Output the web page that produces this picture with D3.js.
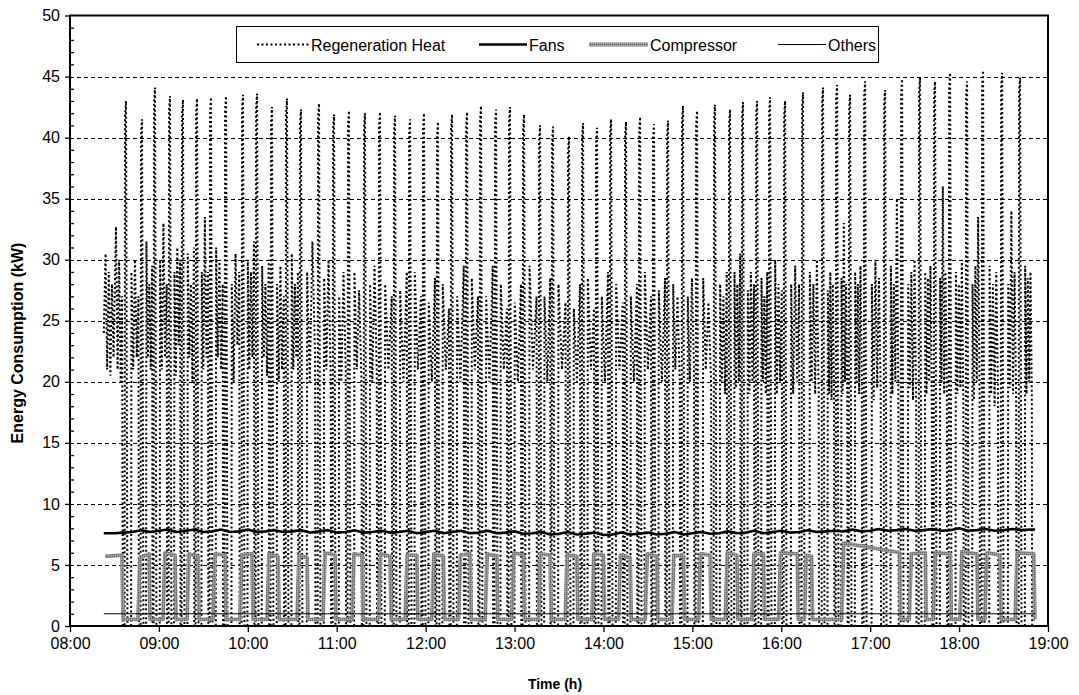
<!DOCTYPE html>
<html>
<head>
<meta charset="utf-8">
<script src="https://cdn.jsdelivr.net/npm/d3@7/dist/d3.min.js"></script>
<style>
  body { margin: 0; background: #fff; }
  text { font-family: "Liberation Sans", Arial, sans-serif; fill: #000; }
</style>
</head>
<body>
<svg id="chart" width="1079" height="695"></svg>
<script>
// ---------------- data ----------------
const hourTicks = [8, 9, 10, 11, 12, 13, 14, 15, 16, 17, 18, 19];
const energyTicks = [0, 5, 10, 15, 20, 25, 30, 35, 40, 45, 50];
const seriesNames = ["Regeneration Heat", "Fans", "Compressor", "Others"];

// Regeneration heat: readings before the first full heater cycle [hour, kW]
const regenLeadIn = [
  [8.380, 24], [8.400, 30.5], [8.418, 21], [8.436, 29], [8.454, 20.5],
  [8.472, 28], [8.490, 22], [8.517, 32.7], [8.535, 21], [8.553, 30],
  [8.570, 20], [8.585, 27], [8.595, 0]
];
// Heater spikes: time of each spike (hour) and its peak (kW)
const regenSpikeTime = [
  8.630, 8.810, 8.956, 9.125, 9.271, 9.429, 9.586, 9.755, 9.946, 10.104,
  10.272, 10.441, 10.598, 10.801, 10.970, 11.138, 11.318, 11.487, 11.656, 11.825,
  11.982, 12.139, 12.297, 12.466, 12.623, 12.792, 12.949, 13.107, 13.287, 13.433,
  13.613, 13.771, 13.928, 14.086, 14.254, 14.412, 14.569, 14.727, 14.895, 15.053,
  15.255, 15.424, 15.570, 15.728, 15.874, 16.043, 16.245, 16.470, 16.628, 16.774,
  16.943, 17.168, 17.359, 17.561, 17.730, 17.899, 18.090, 18.270, 18.484, 18.686
];
const regenSpikePeak = [
  43.0, 41.5, 44.1, 43.4, 43.1, 43.2, 43.3, 43.4, 43.5, 43.6,
  42.5, 43.2, 42.3, 42.8, 41.9, 42.2, 42.0, 42.1, 41.8, 41.5,
  42.0, 41.3, 41.9, 42.1, 42.6, 42.3, 42.5, 41.9, 41.0, 40.9,
  40.1, 41.2, 40.8, 41.5, 41.3, 41.7, 41.1, 41.4, 42.6, 42.2,
  42.7, 42.3, 42.9, 43.0, 43.3, 43.0, 43.7, 44.1, 44.3, 43.5,
  44.6, 43.9, 44.8, 44.9, 44.6, 45.3, 44.6, 45.5, 45.3, 44.9
];
// Modulating readings between spikes (kW)
const regenBand = [
  [29, 21, 30, 22, 27], [31.5, 22, 28, 21, 29.5], [30, 21, 33, 22, 28],
  [29, 20.5, 31, 23, 30], [30.5, 22, 28, 20, 31], [29, 21, 33.5, 22, 29],
  [31, 22, 30, 21, 28], [28, 20, 30.5, 23, 29], [30, 21, 29, 22, 31.5],
  [29.5, 22, 28, 20.5, 30], [28, 20, 29.5, 21, 27], [30.5, 21, 28, 22, 29],
  [29, 20, 31.5, 22], [28.5, 21, 30, 20], [27, 20, 29, 21],
  [29, 21, 27.5, 20], [28, 20, 29.5, 21],
  [28, 21, 27], [27.5, 20, 29], [29, 21, 27],
  [26.5, 20, 28.5], [28, 21, 26], [27, 20, 29.5],
  [28.5, 21, 27], [27, 20, 29.5], [28, 21, 26],
  [26.5, 20, 28], [29.5, 21, 27], [27, 20, 28.5],
  [28, 21, 26.5], [26, 20, 28], [28.5, 21, 26],
  [27, 20, 29], [28, 21, 26.5], [27, 20, 28],
  [29, 21, 27], [27.5, 20, 28.5], [28, 21, 27, 20],
  [27, 20, 28.5, 21], [28.5, 21, 26.5, 20],
  [28, 20, 27, 19, 29], [29, 19.5, 28, 20, 30.5], [27.5, 19, 29, 20, 28],
  [28.5, 20, 27, 19, 29], [30, 19, 28, 20, 27.5], [28, 19, 29.5, 20, 28],
  [29, 20, 28, 19, 30, 19], [27.5, 19, 29, 18.5, 28, 20], [28.5, 19, 33, 20, 28, 19],
  [29, 20, 28, 19, 29.5, 20], [28, 18.5, 30, 19.5, 28.5, 19], [29.5, 19, 28, 20, 35, 19],
  [28, 19.5, 29, 18.5, 30, 19], [29, 19, 28.5, 20, 29.5, 18.5], [28.5, 20, 36, 19, 29, 20],
  [29, 19, 28, 19.5, 30, 18], [28, 18.5, 29.5, 20, 33.5, 19], [29.5, 19, 28, 18, 29, 19.5],
  [28, 19.5, 34, 19, 29, 18.5], [29.5, 19, 28.5, 20, 29, 19]
];
const regenEnd = 18.855;

// Fans [hour, kW]
const fansData = [
  [8.38, 7.6], [8.5, 7.6], [8.6, 7.65], [8.7, 7.7], [8.8, 7.85], [8.9, 7.7], [9.0, 7.8],
  [9.1, 7.9], [9.2, 7.7], [9.3, 7.8], [9.4, 7.9], [9.5, 7.7], [9.6, 7.75], [9.7, 7.9],
  [9.8, 7.7], [9.9, 7.75], [10.0, 7.9], [10.1, 7.7], [10.2, 7.75], [10.3, 7.85], [10.4, 7.7],
  [10.5, 7.75], [10.6, 7.85], [10.7, 7.65], [10.8, 7.75], [10.9, 7.85], [11.0, 7.65], [11.1, 7.7],
  [11.2, 7.85], [11.3, 7.65], [11.4, 7.7], [11.5, 7.8], [11.6, 7.65], [11.7, 7.7], [11.8, 7.8],
  [11.9, 7.6], [12.0, 7.7], [12.1, 7.8], [12.2, 7.6], [12.3, 7.7], [12.4, 7.8], [12.5, 7.6],
  [12.6, 7.65], [12.7, 7.8], [12.8, 7.6], [12.9, 7.65], [13.0, 7.75], [13.1, 7.55], [13.2, 7.6],
  [13.3, 7.7], [13.4, 7.5], [13.5, 7.55], [13.6, 7.7], [13.7, 7.5], [13.8, 7.55], [13.9, 7.65],
  [14.0, 7.45], [14.1, 7.5], [14.2, 7.65], [14.3, 7.5], [14.4, 7.55], [14.5, 7.65], [14.6, 7.5],
  [14.7, 7.55], [14.8, 7.7], [14.9, 7.5], [15.0, 7.6], [15.1, 7.7], [15.2, 7.55], [15.3, 7.6],
  [15.4, 7.75], [15.5, 7.6], [15.6, 7.65], [15.7, 7.8], [15.8, 7.6], [15.9, 7.7], [16.0, 7.8],
  [16.1, 7.65], [16.2, 7.7], [16.3, 7.85], [16.4, 7.7], [16.5, 7.75], [16.6, 7.8], [16.7, 7.75],
  [16.8, 7.9], [16.9, 7.75], [17.0, 7.8], [17.1, 7.95], [17.2, 7.8], [17.3, 7.85], [17.4, 7.95],
  [17.5, 7.8], [17.6, 7.85], [17.7, 7.95], [17.8, 7.8], [17.9, 7.85], [18.0, 8.0], [18.1, 7.8],
  [18.2, 7.85], [18.3, 7.95], [18.4, 7.8], [18.5, 7.85], [18.6, 7.95], [18.7, 7.85], [18.8, 7.9],
  [18.855, 7.9]
];

// Compressor running periods: [on hour, off hour, kW at start, kW at end]
const compressorRuns = [
  [8.394, 8.585, 5.7, 5.8], [8.765, 8.889, 5.6, 5.9], [9.046, 9.181, 6.0, 5.8],
  [9.316, 9.440, 5.9, 5.7], [9.609, 9.744, 5.9, 5.8], [9.912, 10.047, 5.8, 5.9],
  [10.216, 10.340, 5.9, 5.7], [10.553, 10.666, 5.8, 5.6], [10.846, 10.981, 6.0, 5.8],
  [11.172, 11.285, 5.9, 5.8], [11.47, 11.60, 5.9, 5.7], [11.77, 11.90, 5.8, 5.8],
  [12.07, 12.20, 5.9, 5.7], [12.37, 12.50, 5.8, 5.9], [12.67, 12.80, 5.9, 5.7],
  [12.97, 13.10, 6.0, 5.8], [13.27, 13.40, 5.9, 5.8], [13.57, 13.70, 5.8, 5.7],
  [13.87, 14.00, 5.9, 5.8], [14.17, 14.30, 5.8, 5.6], [14.47, 14.60, 5.9, 5.7],
  [14.77, 14.90, 5.8, 5.7], [15.07, 15.20, 5.9, 5.8], [15.37, 15.50, 6.0, 5.8],
  [15.67, 15.80, 5.9, 5.9], [15.97, 16.18, 6.0, 5.9], [16.26, 16.34, 5.8, 5.7],
  [16.68, 17.33, 6.8, 6.0], [17.44, 17.62, 5.9, 6.0], [17.71, 17.90, 6.0, 5.9],
  [18.01, 18.20, 6.1, 5.9], [18.29, 18.46, 6.0, 5.8], [18.63, 18.84, 6.0, 5.9]
];
const compressorIdle = 0.55;
const compressorEnd = 18.855;

// Others [hour, kW]
const othersData = [[8.38, 1.0], [18.855, 1.0]];

// ---------------- layout ----------------
const W = 1079, H = 695;
const plot = { left: 70, right: 1048, top: 15.5, bottom: 626 };

const svg = d3.select("#chart");
svg.append("rect").attr("width", W).attr("height", H).attr("fill", "#fff");

const x = d3.scaleLinear().domain([8, 19]).range([plot.left, plot.right]);
const y = d3.scaleLinear().domain([0, 50]).range([plot.bottom, plot.top]);

// textured grey stroke for the compressor line
const defs = svg.append("defs");
const pat = defs.append("pattern").attr("id", "compTex")
  .attr("patternUnits", "userSpaceOnUse").attr("width", 2).attr("height", 2);
pat.append("rect").attr("width", 2).attr("height", 2).attr("fill", "#8c8c8c");
pat.append("rect").attr("width", 1).attr("height", 1).attr("fill", "#6e6e6e");
pat.append("rect").attr("x", 1).attr("y", 1).attr("width", 1).attr("height", 1).attr("fill", "#a8a8a8");

defs.append("clipPath").attr("id", "plotClip").append("rect")
  .attr("x", plot.left).attr("y", plot.top)
  .attr("width", plot.right - plot.left).attr("height", plot.bottom - plot.top);

// horizontal dashed grid
svg.append("g").selectAll("line")
  .data(energyTicks.filter(v => v > 0 && v < 50))
  .join("line")
  .attr("x1", plot.left).attr("x2", plot.right)
  .attr("y1", d => Math.round(y(d)) + 0.5).attr("y2", d => Math.round(y(d)) + 0.5)
  .attr("stroke", "#000").attr("stroke-width", 1).attr("stroke-dasharray", "4,3");

// ---------------- series ----------------
function regenPoints() {
  const pts = regenLeadIn.slice();
  const w = 0.016;
  regenSpikeTime.forEach((t, i) => {
    const next = i + 1 < regenSpikeTime.length ? regenSpikeTime[i + 1] : regenEnd;
    const D = next - t;
    const peak = regenSpikePeak[i];
    pts.push([t - w, 0], [t - w * 0.7, peak - 1.2], [t, peak], [t + w, 0]);
    const band = regenBand[i];
    const b0 = t + 0.34 * D, b1 = t + 0.78 * D;
    pts.push([b0 - 0.004, 0]);
    band.forEach((v, k) => pts.push([b0 + (b1 - b0) * k / (band.length - 1), v]));
    pts.push([Math.min(b1 + 0.004, regenEnd), 0]);
  });
  return pts;
}

function compressorPoints() {
  const pts = [];
  compressorRuns.forEach((r, i) => {
    const [on, off, v0, v1] = r;
    if (i === 0) pts.push([on, v0]);
    else pts.push([on, compressorIdle], [on + 0.022, v0]);
    pts.push([off, v1], [off + 0.012, compressorIdle]);
  });
  const last = pts[pts.length - 1];
  if (last[0] < compressorEnd) pts.push([compressorEnd, compressorIdle]);
  return pts;
}

const line = d3.line().x(d => x(d[0])).y(d => y(d[1]));
const series = svg.append("g").attr("clip-path", "url(#plotClip)");

series.append("path").datum(regenPoints())
  .attr("d", line).attr("fill", "none").attr("stroke", "#000")
  .attr("stroke-width", 2).attr("stroke-dasharray", "2,2.5");

series.append("path").datum(fansData)
  .attr("d", line).attr("fill", "none").attr("stroke", "#000")
  .attr("stroke-width", 2.6).attr("stroke-linejoin", "round");

series.append("path").datum(compressorPoints())
  .attr("d", line).attr("fill", "none").attr("stroke", "url(#compTex)")
  .attr("stroke-width", 3.8).attr("stroke-linejoin", "round");

series.append("path").datum(othersData)
  .attr("d", line).attr("fill", "none").attr("stroke", "#000")
  .attr("stroke-width", 1);

// ---------------- axes ----------------
const fmtHour = h => (h < 10 ? "0" : "") + h + ":00";

const xAxis = svg.append("g").attr("transform", `translate(0,${plot.bottom})`)
  .call(d3.axisBottom(x).tickValues(hourTicks).tickFormat(fmtHour).tickSize(6).tickPadding(6));
xAxis.select(".domain").remove();
xAxis.selectAll(".tick line").attr("stroke", "#000").attr("stroke-width", 1.3);
xAxis.selectAll("text").attr("font-size", 16).style("font-family", '"Liberation Sans", Arial, sans-serif');

const yAxis = svg.append("g").attr("transform", `translate(${plot.left},0)`)
  .call(d3.axisLeft(y).tickValues(energyTicks).tickSize(5).tickPadding(5));
yAxis.select(".domain").remove();
yAxis.selectAll(".tick line").attr("stroke", "#000").attr("stroke-width", 1.3);
yAxis.selectAll("text").attr("font-size", 16).style("font-family", '"Liberation Sans", Arial, sans-serif');

// minor ticks inside the plot on the value axis
const minorTicks = d3.range(0, 51).filter(v => v % 5 !== 0);
const yMinor = svg.append("g").attr("transform", `translate(${plot.left},0)`)
  .call(d3.axisRight(y).tickValues(minorTicks).tickSize(4).tickFormat(""));
yMinor.select(".domain").remove();
yMinor.selectAll(".tick line").attr("stroke", "#000").attr("stroke-width", 1.3);

// plot frame
svg.append("rect")
  .attr("x", plot.left).attr("y", plot.top)
  .attr("width", plot.right - plot.left).attr("height", plot.bottom - plot.top)
  .attr("fill", "none").attr("stroke", "#000").attr("stroke-width", 2);

// axis titles
svg.append("text")
  .attr("x", 555).attr("y", 689)
  .attr("text-anchor", "middle").attr("font-size", 14).attr("font-weight", "bold")
  .text("Time (h)");

svg.append("text")
  .attr("transform", `translate(23,343) rotate(-90)`)
  .attr("text-anchor", "middle").attr("font-size", 16).attr("font-weight", "bold")
  .text("Energy Consumption (kW)");

// ---------------- legend ----------------
const legend = svg.append("g");
legend.append("rect").attr("x", 236.5).attr("y", 26.5).attr("width", 642).attr("height", 36)
  .attr("fill", "#fff").attr("stroke", "#000").attr("stroke-width", 1);

const legendItems = [
  { name: seriesNames[0], x1: 257, x2: 309, tx: 311, stroke: "#000", w: 2, dash: "2,2.5" },
  { name: seriesNames[1], x1: 479, x2: 527, tx: 529, stroke: "#000", w: 2.6, dash: null },
  { name: seriesNames[2], x1: 589, x2: 648, tx: 650, stroke: "url(#compTex)", w: 3.8, dash: null },
  { name: seriesNames[3], x1: 778, x2: 826, tx: 828, stroke: "#000", w: 1, dash: null }
];
const ly = 44.5;
legendItems.forEach(it => {
  legend.append("line").attr("x1", it.x1).attr("x2", it.x2).attr("y1", ly).attr("y2", ly)
    .attr("stroke", it.stroke).attr("stroke-width", it.w)
    .attr("stroke-dasharray", it.dash);
  legend.append("text").attr("x", it.tx).attr("y", ly + 6)
    .attr("font-size", 16).text(it.name);
});
</script>
</body>
</html>
